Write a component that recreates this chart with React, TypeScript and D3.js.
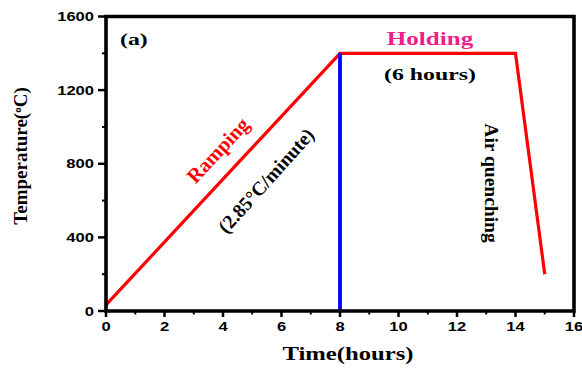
import React from "react";
import * as d3 from "d3";

const timeHours = [0, 8, 14, 15];
const temperature = [33, 1400, 1400, 200];
const holdMarkerX = [8];
const xTicks = [0, 2, 4, 6, 8, 10, 12, 14, 16];
const yTicks = [0, 400, 800, 1200, 1600];
const xMinor = [1, 3, 5, 7, 9, 11, 13, 15];
const yMinor = [200, 600, 1000, 1400];

const W = 582, H = 369;
const m = { left: 106, right: 574, top: 16.5, bottom: 311 };

export default function App() {
  const x = d3.scaleLinear().domain([0, 16]).range([m.left, m.right]);
  const y = d3.scaleLinear().domain([0, 1600]).range([m.bottom, m.top]);
  const pts = timeHours.map((t, i) => [t, temperature[i]] as [number, number]);
  const line = d3.line<[number, number]>().x(d => x(d[0])).y(d => y(d[1]));
  const serif = "'Liberation Serif', 'Times New Roman', serif";
  const sans = "'Liberation Sans', Arial, sans-serif";
  const sx = 1.38;
  const frame = `M${m.left},${m.top}H${m.right}V${m.bottom}H${m.left}Z`;
  return (
    <svg width={W} height={H} style={{ position: "absolute", left: 0, top: 0, background: "#fff" }}>
      <path d={line(pts) || ""} fill="none" stroke="#ff0000" strokeWidth={3.2} strokeLinejoin="miter" />
      {holdMarkerX.map((v, i) => (
        <line key={i} x1={x(v)} x2={x(v)} y1={y(0)} y2={y(1400)} stroke="#0000ff" strokeWidth={3.8} />
      ))}
      <path d={frame} fill="none" stroke="#000000" strokeWidth={3.6} strokeLinejoin="miter" />
      {xTicks.map(t => (
        <g key={"x" + t}>
          <line x1={x(t)} x2={x(t)} y1={m.bottom} y2={m.bottom + 6} stroke="#000" strokeWidth={2.5} />
          <text transform={`translate(${x(t)},${m.bottom + 20}) scale(${sx},1)`} textAnchor="middle" fontFamily={sans} fontWeight="bold" fontSize={12}>{t}</text>
        </g>
      ))}
      {xMinor.map(t => (
        <line key={"xm" + t} x1={x(t)} x2={x(t)} y1={m.bottom} y2={m.bottom + 3.5} stroke="#000" strokeWidth={2} />
      ))}
      {yTicks.map(t => (
        <g key={"y" + t}>
          <line x1={m.left - 8} x2={m.left} y1={y(t)} y2={y(t)} stroke="#000" strokeWidth={2.5} />
          <text transform={`translate(${m.left - 12},${y(t) + 4.5}) scale(${sx},1)`} textAnchor="end" fontFamily={sans} fontWeight="bold" fontSize={12}>{t}</text>
        </g>
      ))}
      {yMinor.map(t => (
        <line key={"ym" + t} x1={m.left - 4} x2={m.left} y1={y(t)} y2={y(t)} stroke="#000" strokeWidth={2} />
      ))}
      <text transform="translate(348,360) scale(1.3,1)" textAnchor="middle" fontFamily={serif} fontWeight="bold" fontSize={19}>Time(hours)</text>
      <text transform="translate(27,156) rotate(-90)" textAnchor="middle" fontFamily={serif} fontWeight="bold" fontSize={19}>
        Temperature(<tspan fontSize={11} dy={-6}>o</tspan><tspan dy={6}>C)</tspan>
      </text>
      <text transform="translate(120,45) scale(1.4,1)" fontFamily={serif} fontWeight="bold" fontSize={17}>(a)</text>
      <text transform="translate(430,45) scale(1.32,1)" textAnchor="middle" fontFamily={serif} fontWeight="bold" fontSize={19} fill="#ee1f8a">Holding</text>
      <text transform="translate(430,80) scale(1.4,1)" textAnchor="middle" fontFamily={serif} fontWeight="bold" fontSize={17}>(6 hours)</text>
      <text transform="translate(223,155) rotate(-47)" textAnchor="middle" fontFamily={serif} fontWeight="bold" fontSize={20.5} fill="#ff0000">Ramping</text>
      <text transform="translate(271,185) rotate(-48)" textAnchor="middle" fontFamily={serif} fontWeight="bold" fontSize={19.5}>(2.85°C/minute)</text>
      <text transform="translate(485,183) rotate(90)" textAnchor="middle" fontFamily={serif} fontWeight="bold" fontSize={19.5}>Air quenching</text>
    </svg>
  );
}
